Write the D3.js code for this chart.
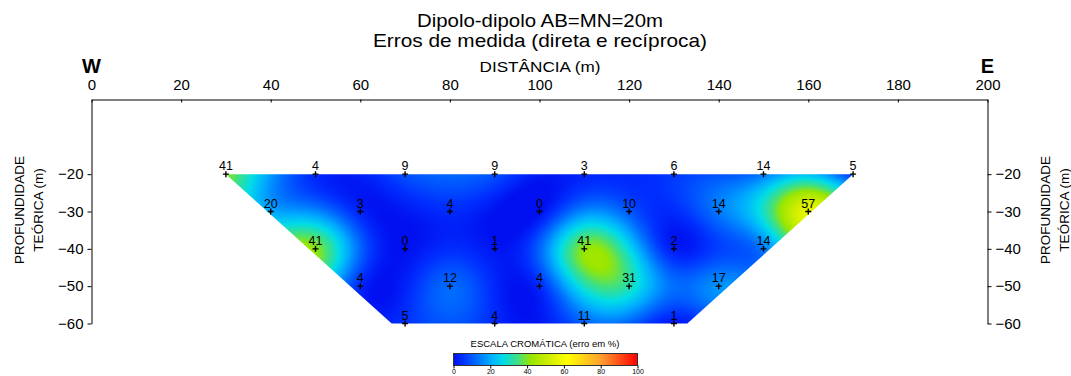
<!DOCTYPE html>
<html>
<head>
<meta charset="utf-8">
<script src="https://cdn.jsdelivr.net/npm/d3@7"></script>
<style>
body { margin: 0; background: #fff; }
text { font-family: "Liberation Sans", Arial, sans-serif; }
</style>
</head>
<body>
<div id="chart"></div>
<script>
// Dados: pontos de medida (distância, profundidade) e erro em %
const profundidades = [-20, -30, -40, -50, -60];
const posicoes = [
    [30, 50, 70, 90, 110, 130, 150, 170],
    [40, 60, 80, 100, 120, 140, 160],
    [50, 70, 90, 110, 130, 150],
    [60, 80, 100, 120, 140],
    [70, 90, 110, 130]
];
const erros = [
    [41, 4, 9, 9, 3, 6, 14, 5],
    [20, 3, 4, 0, 10, 14, 57],
    [41, 0, 1, 41, 2, 14],
    [4, 12, 4, 31, 17],
    [5, 4, 11, 1]
];
// contorno da seção (trapézio)
const secao = [[30, -20], [170, -20], [133, -60], [67, -60]];

const xTicks = [0, 20, 40, 60, 80, 100, 120, 140, 160, 180, 200];
const yTicks = [-20, -30, -40, -50, -60];
const escalaTicks = [0, 20, 40, 60, 80, 100];
const escalaStops = [0, 5, 12, 20, 27, 35, 42, 52, 62, 80, 100];
const escalaCores = ["#0010f0", "#0030ff", "#0068ff", "#00acff", "#00dce8", "#40e080", "#98e600", "#d0ee00", "#ffff00", "#ffa030", "#ff0000"];

const width = 1071;
const height = 376;

const svg = d3.select("#chart")
    .append("svg")
    .attr("width", width)
    .attr("height", height);

// Escalas
const x = d3.scaleLinear().domain([0, 200]).range([91.5, 987.5]);
const y = d3.scaleLinear().domain([0, -60]).range([99.5, 323.5]);
const cor = d3.scaleLinear().domain(escalaStops).range(escalaCores).clamp(true);

// pontos em lista plana
const pontos = [];
profundidades.forEach((z, i) => {
    posicoes[i].forEach((d, j) => pontos.push({ x: d, z: z, v: erros[i][j] }));
});

// Interpolação por funções de base radial (multiquádrica)
const cMq = 9;
const phi = r => Math.sqrt(r * r + cMq * cMq);
const n = pontos.length;
const A = [];
for (let i = 0; i <= n; i++) {
    const linha = [];
    for (let j = 0; j <= n; j++) {
        if (i < n && j < n) linha.push(phi(Math.hypot(pontos[i].x - pontos[j].x, pontos[i].z - pontos[j].z)));
        else if (i === n && j === n) linha.push(0);
        else linha.push(1);
    }
    linha.push(i < n ? pontos[i].v : 0);
    A.push(linha);
}
// eliminação de Gauss
for (let k = 0; k <= n; k++) {
    let m = k;
    for (let i = k + 1; i <= n; i++) if (Math.abs(A[i][k]) > Math.abs(A[m][k])) m = i;
    [A[k], A[m]] = [A[m], A[k]];
    for (let i = k + 1; i <= n; i++) {
        const f = A[i][k] / A[k][k];
        for (let j = k; j <= n + 1; j++) A[i][j] -= f * A[k][j];
    }
}
const pesos = new Array(n + 1).fill(0);
for (let i = n; i >= 0; i--) {
    let s = A[i][n + 1];
    for (let j = i + 1; j <= n; j++) s -= A[i][j] * pesos[j];
    pesos[i] = s / A[i][i];
}
const interp = (px, pz) => {
    let s = pesos[n];
    for (let i = 0; i < n; i++) s += pesos[i] * phi(Math.hypot(pontos[i].x - px, pontos[i].z - pz));
    return s;
};

const x0 = Math.floor(x(30)), x1 = Math.ceil(x(170));
const y0 = Math.floor(y(-20)), y1 = Math.ceil(y(-60));
const cw = x1 - x0, ch = y1 - y0;
const canvas = document.createElement("canvas");
canvas.width = cw;
canvas.height = ch;
const ctx = canvas.getContext("2d");
const img = ctx.createImageData(cw, ch);
for (let py = 0; py < ch; py++) {
    for (let px = 0; px < cw; px++) {
        const v = interp(x.invert(x0 + px + 0.5), y.invert(y0 + py + 0.5));
        const c = d3.rgb(cor(v));
        const k = (py * cw + px) * 4;
        img.data[k] = c.r;
        img.data[k + 1] = c.g;
        img.data[k + 2] = c.b;
        img.data[k + 3] = 255;
    }
}
ctx.putImageData(img, 0, 0);

svg.append("clipPath")
    .attr("id", "clipSecao")
    .append("polygon")
    .attr("points", secao.map(d => [x(d[0]), y(d[1])].join(",")).join(" "));

svg.append("image")
    .attr("x", x0)
    .attr("y", y0)
    .attr("width", cw)
    .attr("height", ch)
    .attr("href", canvas.toDataURL())
    .attr("clip-path", "url(#clipSecao)");

// Eixos
const eixoTopo = svg.append("g")
    .attr("transform", `translate(0, ${y(0)})`)
    .call(d3.axisTop(x).tickValues(xTicks).tickSize(-3).tickSizeOuter(0).tickPadding(10));

const eixoEsq = svg.append("g")
    .attr("transform", `translate(${x(0)}, 0)`)
    .call(d3.axisLeft(y).tickValues(yTicks).tickSize(4).tickSizeOuter(0).tickPadding(4).tickFormat(d3.format("d")));

const eixoDir = svg.append("g")
    .attr("transform", `translate(${x(200)}, 0)`)
    .call(d3.axisRight(y).tickValues(yTicks).tickSize(4).tickSizeOuter(0).tickPadding(4).tickFormat(d3.format("d")));

[eixoTopo, eixoEsq, eixoDir].forEach(g => {
    g.selectAll("text").attr("font-size", 15).attr("fill", "#000").attr("font-family", "Liberation Sans, Arial, sans-serif");
    g.selectAll("line, path").attr("stroke", "#000");
});

// Títulos
svg.append("text").attr("x", 540).attr("y", 27).attr("text-anchor", "middle")
    .attr("font-size", 18.5).attr("textLength", 246).attr("lengthAdjust", "spacingAndGlyphs")
    .text("Dipolo-dipolo AB=MN=20m");
svg.append("text").attr("x", 540).attr("y", 47).attr("text-anchor", "middle")
    .attr("font-size", 18.5).attr("textLength", 334).attr("lengthAdjust", "spacingAndGlyphs")
    .text("Erros de medida (direta e recíproca)");
svg.append("text").attr("x", 540).attr("y", 72).attr("text-anchor", "middle")
    .attr("font-size", 15).attr("textLength", 121).attr("lengthAdjust", "spacingAndGlyphs")
    .text("DISTÂNCIA (m)");
svg.append("text").attr("x", x(0)).attr("y", 73).attr("text-anchor", "middle")
    .attr("font-size", 20).attr("font-weight", "bold").text("W");
svg.append("text").attr("x", x(200)).attr("y", 73).attr("text-anchor", "middle")
    .attr("font-size", 20).attr("font-weight", "bold").text("E");

[[19, 1045], [38, 1064]].forEach(([xl, xr], i) => {
    const txt = i === 0 ? "PROFUNDIDADE" : "TEÓRICA (m)";
    [xl, xr].forEach(xx => {
        svg.append("text")
            .attr("transform", `translate(${xx + 5}, 210) rotate(-90)`)
            .attr("text-anchor", "middle")
            .attr("font-size", 13.5)
            .text(txt);
    });
});

// Pontos de medida
const cruz = svg.append("g");
cruz.selectAll("path")
    .data(pontos)
    .join("path")
    .attr("d", d => `M${x(d.x) - 3},${y(d.z)}h6M${x(d.x)},${y(d.z) - 3}v6`)
    .attr("stroke", "#000")
    .attr("stroke-width", 1.4);

cruz.selectAll("text")
    .data(pontos)
    .join("text")
    .attr("x", d => x(d.x))
    .attr("y", d => y(d.z) - 4)
    .attr("text-anchor", "middle")
    .attr("font-size", 12.5)
    .text(d => d.v);

// Escala cromática
const ex = d3.scaleLinear().domain([0, 100]).range([453.5, 637.5]);
const grad = svg.append("defs").append("linearGradient").attr("id", "gradEscala");
grad.selectAll("stop")
    .data(escalaStops)
    .join("stop")
    .attr("offset", d => `${d}%`)
    .attr("stop-color", (d, i) => escalaCores[i]);

svg.append("text").attr("x", 545).attr("y", 347).attr("text-anchor", "middle")
    .attr("font-size", 9.5).text("ESCALA CROMÁTICA (erro em %)");

svg.append("rect")
    .attr("x", ex(0))
    .attr("y", 353.5)
    .attr("width", ex(100) - ex(0))
    .attr("height", 12)
    .attr("fill", "url(#gradEscala)")
    .attr("stroke", "#333");

const eixoEscala = svg.append("g")
    .attr("transform", "translate(0, 365.5)")
    .call(d3.axisBottom(ex).tickValues(escalaTicks).tickSize(3).tickSizeOuter(0).tickPadding(1));
eixoEscala.select(".domain").remove();
eixoEscala.selectAll("text").attr("font-size", 7).attr("fill", "#000").attr("font-family", "Liberation Sans, Arial, sans-serif");
eixoEscala.selectAll("line").attr("stroke", "#000");
</script>
</body>
</html>
